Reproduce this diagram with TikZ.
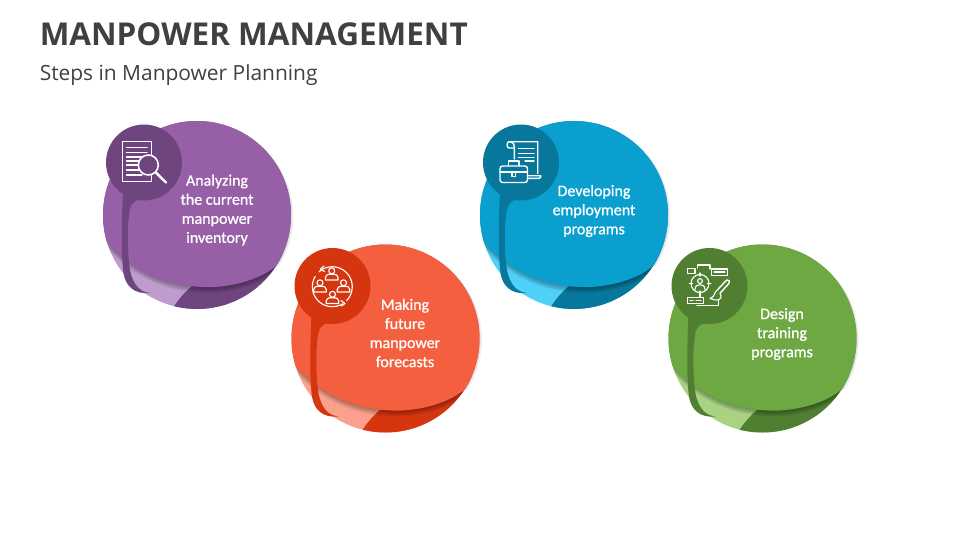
\documentclass[tikz,border=0pt]{standalone}
\usepackage{fontspec}
\setmainfont{Open Sans}
\newfontfamily\bodyfont[FakeBold=0.8]{Carlito}
\definecolor{titlec}{HTML}{404040}
\definecolor{pm}{HTML}{965FA6}\definecolor{pd}{HTML}{6F4580}\definecolor{pl}{HTML}{BE9CCD}
\definecolor{rm}{HTML}{F4603F}\definecolor{rd}{HTML}{D5350F}\definecolor{rl}{HTML}{FAA08D}
\definecolor{bm}{HTML}{0A9FCF}\definecolor{bd}{HTML}{07789B}\definecolor{bl}{HTML}{4FD0F8}
\definecolor{gm}{HTML}{6EA842}\definecolor{gd}{HTML}{507F31}\definecolor{gl}{HTML}{A9D282}
\tikzset{
  label text/.style={text=white,align=center,font=\bodyfont\fontsize{12}{14.3}\selectfont,inner sep=0pt},
  icon/.style={draw=white,line width=1.05pt,line cap=round,line join=round},
  iconthin/.style={draw=white,line width=0.85pt,line cap=round,line join=round},
}
\newcommand{\toppath}{(-91,26) .. controls (-60,62) and (-20,73) .. (16,72) .. controls (40,71) and (65,63) .. (79,51) -- (110,51) -- (110,-110) -- (-110,-110) -- (-110,26) -- cycle}
\newcommand{\stepdisc}[5]{%
 % #1 x, #2 y, #3 main, #4 dark, #5 light
 \begin{scope}[shift={(#1,#2)}]
  \begin{scope}\clip \toppath;
    \fill[black,opacity=.05] (2.5,1.5) circle (94);
    \fill[black,opacity=.07] (1.2,.8) circle (94);
  \end{scope}
  \fill[#5] (0,0) circle (94);
  \begin{scope}
    \clip (0,0) circle (94);
    \fill[#4] (-26,96) .. controls (-16,80) and (-6,70) .. (6,64) -- (110,30) -- (110,110) -- (-26,110) -- cycle;
    \foreach \s in {1,2,3,4,5,6} {
      \begin{scope}[yshift=\s*-0.75pt]
        \fill[black,opacity=.055] \toppath;
      \end{scope}
    }
  \end{scope}
  \begin{scope}\clip \toppath;
    \fill[#3] (0,0) circle (94);
  \end{scope}
  \fill[#4] (-74,-24) .. controls (-75.5,10) and (-76,40) .. (-73.5,58)
     .. controls (-71.5,71) and (-63,79.5) .. (-47,78)
     .. controls (-57,77) and (-64,70) .. (-67,55)
     .. controls (-70,35) and (-70,10) .. (-67,-6)
     .. controls (-65,-14) and (-60,-16) .. (-50,-16) -- cycle;
  \fill[#4] (-53,-52.5) circle (38);
 \end{scope}}
\newcommand{\person}[3]{% x y scale
 \begin{scope}[shift={(#1,#2)},scale=#3]
  \draw[iconthin] (0,-3.2) circle (3);
  \draw[iconthin] (-6.3,6) -- (-6.3,3.5) .. controls (-6.3,1) and (-4,0.5) .. (-2.3,0.2) -- (2.3,0.2) .. controls (4,0.5) and (6.3,1) .. (6.3,3.5) -- (6.3,6) -- cycle;
 \end{scope}}
\begin{document}
\begin{tikzpicture}[x=0.75pt,y=-0.75pt]
\useasboundingbox (0,0) rectangle (960,540);
\fill[white] (0,0) rectangle (960,540);
\node[anchor=west,inner sep=0pt,text=titlec,font=\fontsize{23.6}{28}\selectfont\bfseries] (title) at (39.5,34.5) {MANPOWER MANAGEMENT};
\node[anchor=west,inner sep=0pt,text=titlec,font=\fontsize{15.7}{18}\selectfont] (subtitle) at (39.5,75) {Steps in Manpower Planning};

\stepdisc{197}{215}{pm}{pd}{pl}
\stepdisc{385.5}{338.5}{rm}{rd}{rl}
\stepdisc{574}{215}{bm}{bd}{bl}
\stepdisc{762.5}{338.5}{gm}{gd}{gl}

\node[label text] (t1) at (217,210) {Analyzing\\the current\\manpower\\inventory};
\node[label text] (t2) at (405,333) {Making\\future\\manpower\\forecasts};
\node[label text] (t3) at (594,211) {Developing\\employment\\programs};
\node[label text] (t4) at (782,334) {Design\\training\\programs};

% icon 1: document and magnifier
\draw[icon] (122.7,141.7) rectangle (151.7,181.7);
\foreach \yy/\xx in {147.5/147,152.5/147,157/147,161/139,165/139,170/139,175/142}
  \draw[iconthin] (126.5,\yy) -- (\xx,\yy);
\fill[pd] (148.3,165) circle (10);
\draw[icon,line width=1.2pt] (148.3,165) circle (10);
\draw[icon,line width=1.8pt] (156,172.7) -- (166,182.5);

% icon 2: people in a cycle
\draw[iconthin] (332.3,286.7) circle (20);
\fill[rd] (316,273) circle (3.2);
\draw[iconthin] (324,266) -- (320.5,269) -- (324.5,271.5);
\fill[rd] (345.5,303.5) circle (3);
\draw[iconthin] (341,300.5) -- (345,303.5) -- (341.5,306);
\person{331.7}{274}{1}
\person{320}{286}{1}
\person{343.5}{286}{1}
\person{332.5}{297.5}{1}

% icon 3: scroll and briefcase
\draw[icon] (537.7,173.5) -- (537.7,141.7) -- (509,141.7) .. controls (506.5,141.7) and (506.5,148) .. (509,148) -- (514.3,148);
\draw[icon] (510,141.7) .. controls (513,142) and (514.3,143.5) .. (514.3,146.5) -- (514.3,159);
\draw[icon] (528.3,175.7) -- (540.7,175.7) .. controls (541,177) and (540.5,178.3) .. (539,178.3) -- (528.3,178.3);
\foreach \xa/\yy in {518.5/148.5,518.5/153.5,518.5/157.5,525/161}
  \draw[iconthin] (\xa,\yy) -- (534,\yy);
\draw[icon,rounded corners=2pt] (500,166) rectangle (527.5,182.5);
\draw[iconthin] (500,172) -- (527.5,172);
\draw[icon] (508.5,166) -- (508.5,161) -- (519,161) -- (519,166);
\draw[iconthin] (512,172) rectangle (515.5,176.5);

% icon 4: person, boxes and brush
\draw[iconthin] (687.5,268.5) rectangle (695,273.5);
\draw[iconthin] (711.7,269) rectangle (727.7,275.5);
\draw[iconthin] (714,272) -- (725,272);
\draw[iconthin] (687.5,297.5) rectangle (703.5,303.5);
\draw[iconthin] (690,300.5) -- (693,300.5) (696,300.5) -- (701,300.5);
\draw[iconthin] (697.5,268) -- (697.5,265) -- (710,265) -- (710,269);
\draw[iconthin] (700,283.5) circle (9);
\draw[iconthin] (700,273) -- (700,276) (700,291) -- (700,297.5) (689.5,283.5) -- (692.5,283.5) (707.5,283.5) -- (711,283.5);
\draw[iconthin] (700,281) circle (2.4);
\draw[iconthin] (695,289.5) .. controls (695,285.5) and (698,284.7) .. (700,284.7) .. controls (702,284.7) and (705,285.5) .. (705,289.5);
\draw[icon] (717.3,290) -- (726.7,280) -- (729.3,280.7) -- (729,283.3) -- (720,293.3);
\draw[iconthin] (717.3,290) .. controls (714,292) and (715,297) .. (710,298.5) .. controls (713,300) and (716,300) .. (718,300) .. controls (721,299) and (722,296) .. (720,293.3);
\draw[iconthin] (697,305.5) -- (718.5,305.5) -- (718.5,300);
\end{tikzpicture}
\end{document}
